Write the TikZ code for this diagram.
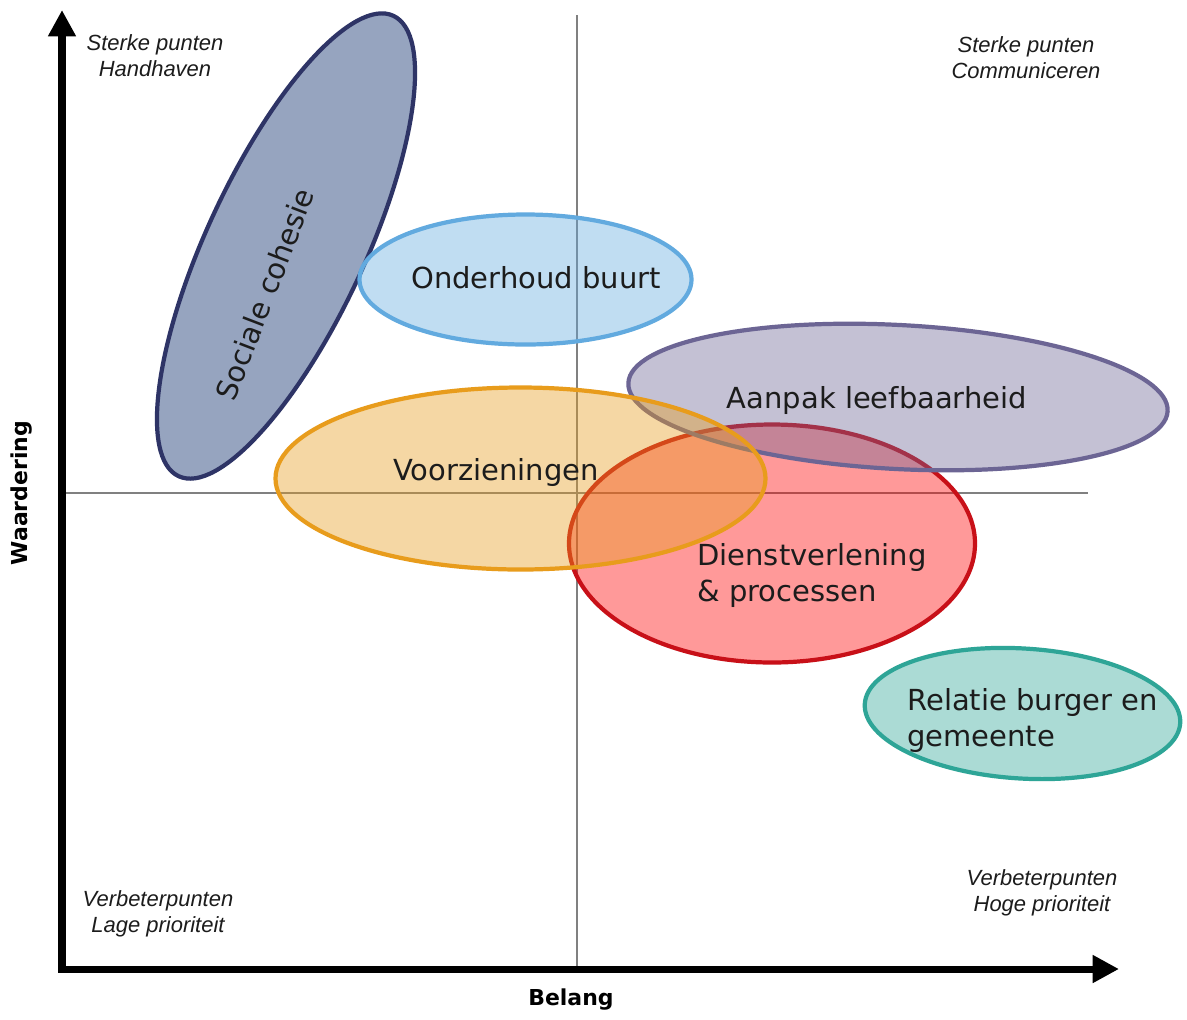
\documentclass[tikz,border=0pt]{standalone}
\usepackage{fontspec}
\setmainfont{DejaVu Sans}
\newfontfamily\cornerfont{Liberation Sans}
\usetikzlibrary{arrows.meta}
\definecolor{txt}{RGB}{28,28,28}
\definecolor{guidegray}{RGB}{128,128,128}
\definecolor{socfill}{RGB}{150,164,191}
\definecolor{socline}{RGB}{46,52,102}
\definecolor{ondline}{RGB}{98,170,223}
\definecolor{aanline}{RGB}{108,101,148}
\definecolor{voorline}{RGB}{232,156,28}
\definecolor{dienline}{RGB}{200,16,24}
\definecolor{dienfill}{RGB}{255,0,0}
\definecolor{relline}{RGB}{46,165,151}
\begin{document}
\begin{tikzpicture}[x=0.02cm,y=-0.02cm,
  guide/.style={draw=guidegray,line width=0.6pt},
  blob/.style={line width=2.4pt,fill opacity=0.4},
  axisline/.style={line width=4pt,line join=miter,
    {Triangle[length=15pt,width=15pt]}-{Triangle[length=15pt,width=15pt]}},
  label/.style={text=txt,font=\fontsize{16.5}{20.2}\selectfont,inner sep=0pt},
  corner/.style={text=txt,align=center,inner sep=0pt,
    font=\cornerfont\itshape\fontsize{12.5}{14.8}\selectfont},
  axlabel/.style={text=black,inner sep=0pt,font=\bfseries\fontsize{12.5}{15}\selectfont}]
\useasboundingbox (0,0) rectangle (1187,1019);
\fill[white] (0,0) rectangle (1187,1019);
% guide cross
\coordinate (vtop) at (577,15);
\coordinate (vbot) at (577,968);
\coordinate (hleft) at (65,493);
\coordinate (hright) at (1088,493);
\draw[guide] (vtop) -- (vbot);
\draw[guide] (hleft) -- (hright);
% ellipses
\path[blob,draw=socline,fill=socfill,fill opacity=1,rotate around={65:(286,246)}]
  (286,246) ellipse [x radius=254, y radius=79];
\path[blob,draw=ondline,fill=ondline] (525.5,279.5) ellipse [x radius=166, y radius=65];
\path[blob,draw=dienline,fill=dienfill] (772,543.5) ellipse [x radius=203, y radius=119];
\path[blob,draw=aanline,fill=aanline,rotate around={-3:(898,397)}]
  (898,397) ellipse [x radius=270, y radius=72];
\path[blob,draw=voorline,fill=voorline] (520.5,478.5) ellipse [x radius=245, y radius=91];
\path[blob,draw=relline,fill=relline,rotate around={-3.5:(1022.5,713.5)}]
  (1022.5,713.5) ellipse [x radius=158, y radius=65];
% ellipse labels
\node[label,rotate=69] (soc) at (265,294) {Sociale cohesie};
\node[label] (ond) at (536,278) {Onderhoud buurt};
\node[label] (aan) at (877,400) {Aanpak leefbaarheid};
\node[label] (voor) at (496,472) {Voorzieningen};
\node[label,align=left,anchor=west] (dien) at (697,575.5) {Dienstverlening\\\& processen};
\node[label,align=left,anchor=west] (rel) at (907,720.5) {Relatie burger en\\gemeente};
% corner labels
\node[corner] (tl) at (155,56) {Sterke punten\\Handhaven};
\node[corner] (tr) at (1026,58) {Sterke punten\\Communiceren};
\node[corner] (bl) at (158,914) {Verbeterpunten\\Lage prioriteit};
\node[corner] (br) at (1042,893) {Verbeterpunten\\Hoge prioriteit};
% axes
\coordinate (origin) at (62,969);
\coordinate (ytip) at (62,10);
\coordinate (xtip) at (1119,969);
\draw[axisline] (ytip) -- (origin) -- (xtip);
\node[axlabel] (belang) at (571,1000) {Belang};
\node[axlabel,rotate=90] (waard) at (22,493) {Waardering};
\end{tikzpicture}
\end{document}
